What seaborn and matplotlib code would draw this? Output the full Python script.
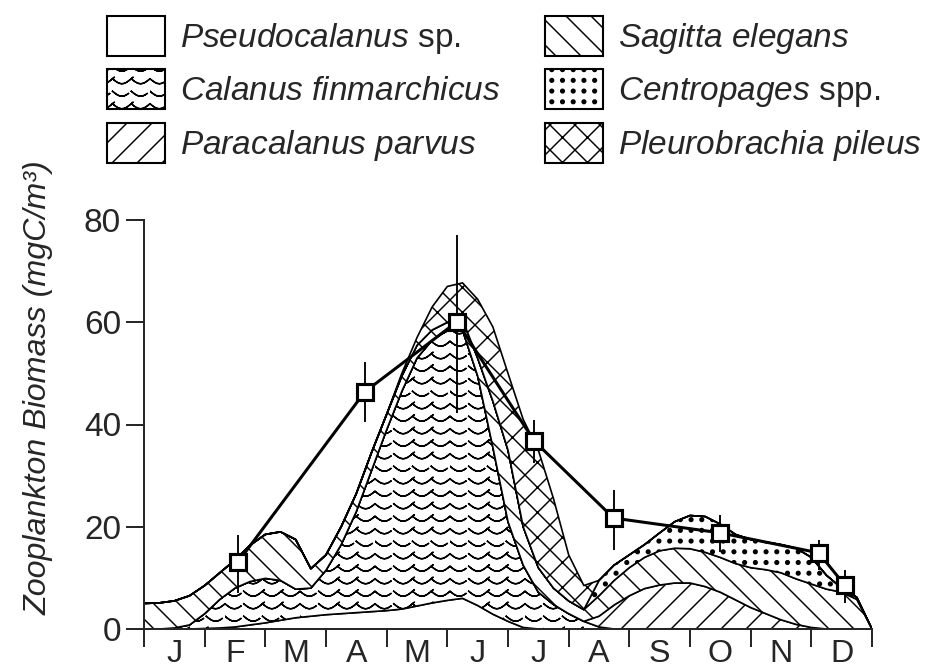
import warnings

import numpy as np
import matplotlib
matplotlib.use('Agg')
import matplotlib.pyplot as plt
import matplotlib.hatch as mhatch
from matplotlib.path import Path
from matplotlib.patches import Patch
import seaborn as sns

warnings.filterwarnings('ignore')  # custom hatch letters raise a deprecation note

# positions along the year in months (0 = start of Jan, 12 = end of Dec)
month_pos = [0, 0.25, 0.5, 0.75, 1, 1.25, 1.5, 1.75, 2, 2.25, 2.5, 2.75,
             3, 3.25, 3.5, 3.75, 4, 4.25, 4.5, 4.75, 5, 5.25, 5.5, 5.75,
             6, 6.25, 6.5, 6.75, 7, 7.25, 7.5, 7.75, 8, 8.25, 8.5, 8.75,
             9, 9.25, 9.5, 9.75, 10, 10.25, 10.5, 10.75, 11, 11.25, 11.5, 11.75, 12]

# biomass of each group (mgC/m3), stacked from the bottom up
pseudocalanus = [0, 0, 0, 0, 0.1, 0.2, 0.4, 0.8, 1.2, 1.7, 2.2, 2.5,
                 2.8, 3.0, 3.2, 3.4, 3.6, 3.9, 4.5, 5.1, 5.6, 6.0, 4.6, 2.9,
                 1.5, 0.3, 0, 0, 0, 0, 0, 0, 0, 0, 0, 0,
                 0, 0, 0, 0, 0, 0, 0, 0, 0, 0, 0, 0, 0]
calanus = [0, 0, 0.2, 0.8, 2.9, 5.6, 7.6, 8.5, 8.7, 7.8, 5.6, 5.5,
           8.7, 13.5, 19.8, 27.6, 35.4, 42.6, 48.5, 51.4, 52.9, 52.5, 44.9, 32.7,
           19.5, 12.2, 7.2, 4.8, 3.0, 1.5, 0.4, 0, 0, 0, 0, 0,
           0, 0, 0, 0, 0, 0, 0, 0, 0, 0, 0, 0, 0]
paracalanus = [0, 0, 0, 0, 0, 0, 0, 0, 0, 0, 0, 0,
               0, 0, 0, 0, 0, 0, 0, 0, 0, 0, 0, 0,
               0, 0, 0, 0, 0, 0, 2.1, 4.7, 6.5, 7.9, 8.6, 9.0,
               9.0, 8.3, 7.2, 5.7, 4.2, 3.0, 1.8, 0.9, 0.3, 0, 0, 0, 0]
sagitta = [5.0, 5.1, 5.3, 5.7, 5.5, 5.2, 5.5, 7.1, 8.6, 9.5, 9.7, 3.8,
           3.0, 3.5, 3.5, 3.5, 3.0, 3.0, 2.5, 2.0, 1.5, 2.0, 3.5, 9.0,
           14.0, 7.5, 4.8, 3.2, 2.5, 2.3, 4.0, 4.8, 5.5, 6.1, 6.7, 6.8,
           6.7, 6.7, 6.8, 7.1, 7.8, 8.6, 9.2, 8.9, 8.5, 7.8, 7.2, 5.8, 0]
centropages = [0, 0, 0, 0, 0, 0, 0, 0, 0, 0, 0, 0,
               0, 0, 0, 0, 0, 0, 0, 0, 0, 0, 0, 0,
               0, 0, 0, 0, 0, 0, 3.0, 3.0, 2.5, 2.5, 3.5, 5.2,
               6.5, 7.0, 6.5, 5.7, 5.5, 5.4, 5.5, 6.0, 5.2, 2.7, 0.8, 0.4, 0]
pleurobrachia = [0, 0, 0, 0, 0, 0, 0, 0, 0, 0, 0, 0,
                 0, 0, 0, 0, 0, 0.5, 1.5, 4.5, 7.0, 7.2, 11.5, 14.5,
                 15.0, 21.0, 23.0, 17.5, 9.0, 4.7, 0, 0, 0, 0, 0, 0,
                 0, 0, 0, 0, 0, 0, 0, 0, 0, 0, 0, 0, 0]

# total zooplankton biomass samples with their ranges
sample_month = [1.55, 3.64, 5.16, 6.43, 7.74, 9.5, 11.12, 11.55]
biomass = [13.1, 46.4, 60.1, 36.8, 21.7, 18.8, 14.9, 8.6]
err_low = [7.0, 40.5, 42.3, 32.5, 15.5, 15.1, 11.5, 5.1]
err_high = [18.4, 52.2, 77.0, 40.9, 27.2, 22.3, 17.4, 11.5]

month_labels = ['J', 'F', 'M', 'A', 'M', 'J', 'J', 'A', 'S', 'O', 'N', 'D']
month_centres = [0.5, 1.5, 2.5, 3.5, 4.5, 5.5, 6.5, 7.5, 8.5, 9.5, 10.5, 11.5]

species_labels = [r'$\mathit{Pseudocalanus}$ sp.',
                  r'$\mathit{Calanus\ finmarchicus}$',
                  r'$\mathit{Paracalanus\ parvus}$',
                  r'$\mathit{Sagitta\ elegans}$',
                  r'$\mathit{Centropages}$ spp.',
                  r'$\mathit{Pleurobrachia\ pileus}$']
species_hatch = ['', '~', '/', '\\', ':', 'x']


class ScallopHatch(mhatch.HatchPatternBase):
    # rows of small cups, the Calanus texture
    def __init__(self, hatch, density):
        self.num_rows = hatch.count('~') * density
        self.num_cups = 4 * hatch.count('~')
        self.seg = 8
        # each cup is traced there and back so the fill adds no area
        self.num_vertices = self.num_rows * self.num_cups * (2 * self.seg + 1)

    def set_vertices_and_codes(self, vertices, codes):
        t = np.linspace(0, 1, self.seg + 1)
        step = 1.0 / max(self.num_cups, 1)
        dy = 1.0 / max(self.num_rows, 1)
        k = 0
        for r in range(self.num_rows):
            y0 = (r + 0.7) * dy
            for c in range(self.num_cups):
                pts = np.column_stack([c * step + t * step,
                                       y0 - 0.4 * dy * np.sin(np.pi * t)])
                pts = np.vstack([pts, pts[-2::-1]])
                n = len(pts)
                vertices[k:k + n] = pts
                codes[k] = Path.MOVETO
                codes[k + 1:k + n] = Path.LINETO
                k += n


class DotHatch(mhatch.HatchPatternBase):
    # square grid of filled dots, the Centropages texture
    def __init__(self, hatch, density):
        self.n = hatch.count(':') * 7
        circle = Path.unit_circle()
        self.cv, self.cc = circle.vertices, circle.codes
        self.num_vertices = self.n * self.n * len(self.cv)

    def set_vertices_and_codes(self, vertices, codes):
        step = 1.0 / max(self.n, 1)
        m = len(self.cv)
        k = 0
        for i in range(self.n):
            for j in range(self.n):
                vertices[k:k + m] = self.cv * step * 0.17 + [(j + 0.5) * step, (i + 0.5) * step]
                codes[k:k + m] = self.cc
                k += m


mhatch._hatch_types.append(ScallopHatch)
mhatch._hatch_types.append(DotHatch)

sns.set_style('ticks')
plt.rcParams['font.family'] = ['Liberation Sans', 'DejaVu Sans']
plt.rcParams['mathtext.fontset'] = 'custom'
plt.rcParams['mathtext.rm'] = 'Liberation Sans'
plt.rcParams['mathtext.it'] = 'Liberation Sans:italic'
plt.rcParams['hatch.linewidth'] = 1.4
plt.rcParams['hatch.color'] = 'black'

DPI = 75
fig = plt.figure(figsize=(937 / DPI, 671 / DPI), dpi=DPI)
ax = fig.add_axes([144 / 937, 42 / 671, 728 / 937, 409 / 671])

layers = ax.stackplot(month_pos, pseudocalanus, calanus, paracalanus,
                      sagitta, centropages, pleurobrachia,
                      colors=['white'] * 6, edgecolor='black', linewidth=1.6)
for poly, h in zip(layers, species_hatch):
    poly.set_hatch(h)

ax.vlines(sample_month, err_low, err_high, color='black', lw=1.8, zorder=4)
sns.lineplot(x=sample_month, y=biomass, ax=ax, color='black', lw=2.9,
             marker='s', ms=16, mfc='white', mec='black', mew=3, zorder=5)

ax.set_xlim(0, 12)
ax.set_ylim(0, 80)
ax.set_xticks(range(13))
ax.set_xticks(month_centres, minor=True)
ax.set_xticklabels(month_labels, minor=True)
ax.set_yticks([0, 20, 40, 60, 80])
ax.tick_params(axis='x', which='major', length=17, width=1.9,
               labelbottom=False)
ax.tick_params(axis='x', which='minor', length=0, pad=10, labelsize=31)
ax.tick_params(axis='y', length=17, width=1.9, pad=5, labelsize=32)
for side in ['left', 'bottom']:
    ax.spines[side].set_linewidth(1.9)
sns.despine(ax=ax)

ax.set_ylabel('Zooplankton Biomass (mgC/m³)', fontsize=31,
              fontstyle='italic', va='center')
ax.yaxis.set_label_coords(-0.1454, 0.589)

handles = [Patch(facecolor='white', edgecolor='black', linewidth=2, hatch=h)
           for h in species_hatch]
fig.legend(handles, species_labels, ncol=2, loc='upper left',
           bbox_to_anchor=(107 / 937, 1 - 16 / 671), frameon=False,
           fontsize=32, borderpad=0, borderaxespad=0, handlelength=1.74,
           handleheight=1.47, handletextpad=0.45, columnspacing=1.35,
           labelspacing=0.4)

fig.savefig('out.png', dpi=DPI)
